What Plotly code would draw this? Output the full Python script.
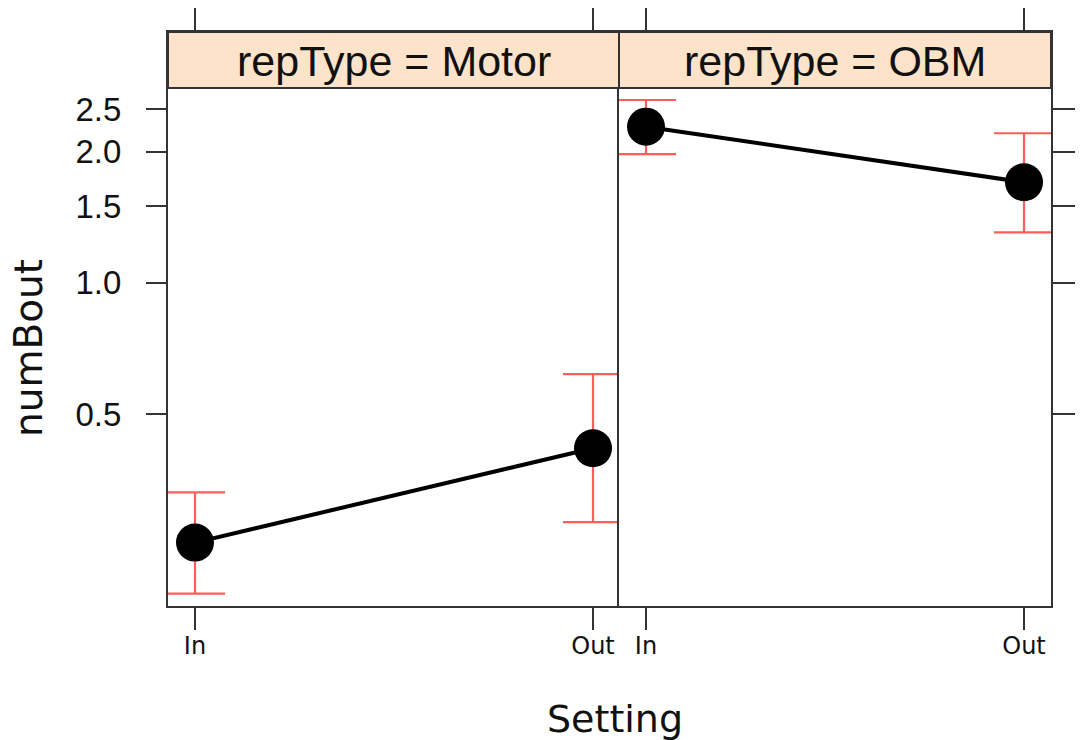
import plotly.graph_objects as go

settings = ["In", "Out"]
panels = ["Motor", "OBM"]
fit_motor = [0.254, 0.418]
lower_motor = [0.194, 0.283]
upper_motor = [0.331, 0.618]
fit_obm = [2.281, 1.701]
lower_obm = [1.974, 1.306]
upper_obm = [2.626, 2.203]
ytick_vals = [0.5, 1.0, 1.5, 2.0, 2.5]
ytick_text = ["0.5", "1.0", "1.5", "2.0", "2.5"]

W, H = 1082, 740
px = lambda v: v / W
py = lambda v: (H - v) / H

fig = go.Figure()

def add_panel(fit, lo, hi, xa, ya):
    fig.add_trace(go.Scatter(
        x=settings, y=fit, xaxis=xa, yaxis=ya, mode="lines+markers",
        line=dict(color="black", width=4),
        marker=dict(color="black", size=38),
        error_y=dict(type="data", symmetric=False,
                     array=[h - f for h, f in zip(hi, fit)],
                     arrayminus=[f - l for f, l in zip(fit, lo)],
                     color="#ff5c5c", thickness=2.2, width=30),
        showlegend=False, hoverinfo="x+y"))

add_panel(fit_motor, lower_motor, upper_motor, "x", "y")
add_panel(fit_obm, lower_obm, upper_obm, "x2", "y2")

ylog_range = [-0.7405, 0.5751]
axis_col = "#333333"
tickfont_x = dict(family="DejaVu Sans", size=24, color="#111")

common_x = dict(type="category", categoryorder="array", categoryarray=settings,
                showline=True, linecolor=axis_col, linewidth=2, mirror="ticks",
                ticks="outside", ticklen=22, tickwidth=2, tickcolor=axis_col,
                showgrid=False, zeroline=False, tickfont=tickfont_x,
                ticklabelstandoff=-5, fixedrange=True)

fig.update_layout(
    width=W, height=H, autosize=False,
    margin=dict(l=0, r=0, t=0, b=0),
    paper_bgcolor="white", plot_bgcolor="white",
    xaxis=dict(domain=[px(168), px(619)], range=[-0.0678, 1.0653], anchor="y", **common_x),
    xaxis2=dict(domain=[px(619), px(1051)], range=[-0.0714, 1.0714], anchor="y2", **common_x),
    yaxis=dict(domain=[py(606), py(32)], type="log", range=ylog_range, anchor="x",
               tickvals=ytick_vals, ticktext=ytick_text,
               showline=True, linecolor=axis_col, linewidth=2, mirror=False,
               ticks="outside", ticklen=20, tickwidth=2, tickcolor=axis_col,
               showgrid=False, zeroline=False, ticklabelstandoff=18,
               tickfont=dict(family="Liberation Sans", size=33, color="#111")),
    yaxis2=dict(domain=[py(606), py(32)], type="log", range=ylog_range, anchor="x2",
                side="right", tickvals=ytick_vals, showticklabels=False,
                showline=True, linecolor=axis_col, linewidth=2, mirror=True,
                ticks="outside", ticklen=22, tickwidth=2, tickcolor=axis_col,
                showgrid=False, zeroline=False),
)

strips = [(168, 619), (619, 1051)]
for (x0, x1), name in zip(strips, panels):
    fig.add_shape(type="rect", xref="paper", yref="paper",
                  x0=px(x0), x1=px(x1), y0=py(88), y1=py(32),
                  fillcolor="#fde3c9", line=dict(color=axis_col, width=2), layer="above")
    fig.add_annotation(xref="paper", yref="paper", x=(px(x0) + px(x1)) / 2, y=py(61),
                       text=f"repType = {name}", showarrow=False,
                       font=dict(family="Liberation Sans", size=43, color="#111"),
                       xanchor="center", yanchor="middle")

fig.add_annotation(xref="paper", yref="paper", x=px(28), y=py(348), text="numBout",
                   textangle=-90, showarrow=False,
                   font=dict(family="DejaVu Sans", size=39, color="#111"),
                   xanchor="center", yanchor="middle")
fig.add_annotation(xref="paper", yref="paper", x=px(615), y=py(719), text="Setting",
                   showarrow=False,
                   font=dict(family="DejaVu Sans", size=38, color="#111"),
                   xanchor="center", yanchor="middle")

fig.write_html("out.html")
